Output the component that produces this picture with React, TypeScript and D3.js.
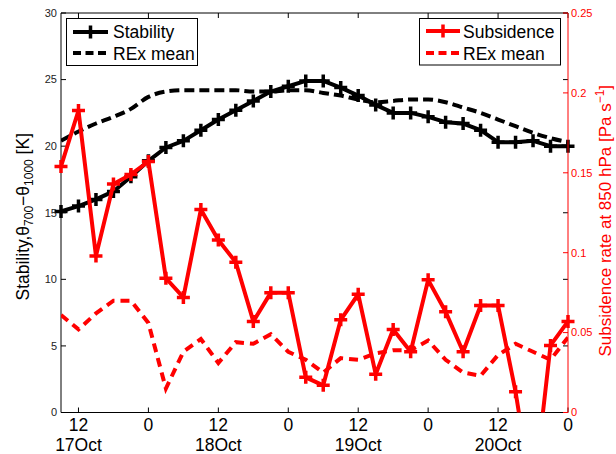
import React from 'react';
import * as d3 from 'd3';

// hours since 17 Oct 00 UTC, one value every 3 h
const hours = [9, 12, 15, 18, 21, 24, 27, 30, 33, 36, 39, 42, 45, 48, 51, 54, 57, 60, 63, 66, 69, 72, 75, 78, 81, 84, 87, 90, 93, 96];
const stability = [15.1, 15.5, 16.0, 16.6, 17.7, 18.9, 19.9, 20.4, 21.2, 22.0, 22.7, 23.4, 24.1, 24.5, 24.9, 24.9, 24.4, 23.8, 23.1, 22.5, 22.5, 22.2, 21.8, 21.7, 21.2, 20.3, 20.3, 20.4, 20.0, 20.0];
const stabilityRex = [20.4, 21.1, 21.7, 22.2, 22.8, 23.7, 24.1, 24.2, 24.2, 24.2, 24.2, 24.1, 24.1, 24.2, 24.2, 24.0, 23.8, 23.5, 23.3, 23.4, 23.5, 23.5, 23.3, 22.9, 22.5, 22.0, 21.5, 21.0, 20.6, 20.3];
const subsidence = [0.154, 0.189, 0.098, 0.143, 0.149, 0.157, 0.084, 0.072, 0.127, 0.108, 0.094, 0.057, 0.075, 0.075, 0.022, 0.017, 0.058, 0.074, 0.024, 0.052, 0.038, 0.083, 0.063, 0.038, 0.067, 0.067, 0.013, -0.055, 0.042, 0.057];
const subsidenceRex = [0.061, 0.052, 0.062, 0.070, 0.070, 0.056, 0.015, 0.038, 0.046, 0.031, 0.044, 0.043, 0.049, 0.038, 0.033, 0.025, 0.034, 0.033, 0.037, 0.039, 0.039, 0.045, 0.033, 0.025, 0.023, 0.036, 0.043, 0.038, 0.033, 0.047];

const xTicks = [12, 24, 36, 48, 60, 72, 84, 96];
const xTickLabels = ['12', '0', '12', '0', '12', '0', '12', '0'];
const dayTicks = [12, 36, 60, 84];
const dayLabels = ['17Oct', '18Oct', '19Oct', '20Oct'];
const leftTicks = [0, 5, 10, 15, 20, 25, 30];
const rightTicks = [0, 0.05, 0.1, 0.15, 0.2, 0.25];
const rightTickLabels = ['0', '0.05', '0.1', '0.15', '0.2', '0.25'];

const W = 616, H = 454;
const m = { left: 61, right: 568, top: 13, bottom: 412.5 };
const RED = '#ff0000';
const FONT = '"Liberation Sans", Arial, sans-serif';

const plus = 'M-6.5,0H6.5M0,-6.5V6.5';

export default function App() {
  const x = d3.scaleLinear().domain([9, 96]).range([m.left, m.right]);
  const yL = d3.scaleLinear().domain([0, 30]).range([m.bottom, m.top]);
  const yR = d3.scaleLinear().domain([0, 0.25]).range([m.bottom, m.top]);

  const lineL = d3.line<number>().x((_, i) => x(hours[i])).y(d => yL(d));
  const smoothL = d3.line<number>().x((_, i) => x(hours[i])).y(d => yL(d)).curve(d3.curveMonotoneX);
  const lineR = d3.line<number>().x((_, i) => x(hours[i])).y(d => yR(d));

  return (
    <svg width={W} height={H} style={{ position: 'absolute', left: 0, top: 0, background: '#fff' }} fontFamily={FONT}>
      <defs>
        <clipPath id="plot">
          <rect x={m.left} y={m.top} width={m.right - m.left} height={m.bottom - m.top} />
        </clipPath>
      </defs>
      <rect x={0} y={0} width={W} height={H} fill="#fff" />

      {/* left axis data */}
      <g clipPath="url(#plot)">
        <path d={smoothL(stabilityRex) || ''} fill="none" stroke="#000" strokeWidth={4} strokeDasharray="10,5" />
        <path d={lineL(stability) || ''} fill="none" stroke="#000" strokeWidth={4} strokeLinejoin="round" />
      </g>
      {stability.map((d, i) => (
        <path key={i} d={plus} transform={`translate(${x(hours[i])},${yL(d)})`} stroke="#000" strokeWidth={3.5} />
      ))}

      {/* frame + ticks for left axis */}
      <g stroke="#000" strokeWidth={1} fill="none">
        <line x1={m.left} y1={m.top} x2={m.right} y2={m.top} />
        <line x1={m.left} y1={m.bottom} x2={m.right} y2={m.bottom} />
        <line x1={m.left} y1={m.top} x2={m.left} y2={m.bottom} />
        {xTicks.map(t => (
          <g key={t}>
            <line x1={x(t)} x2={x(t)} y1={m.bottom} y2={m.bottom - 5} />
            <line x1={x(t)} x2={x(t)} y1={m.top} y2={m.top + 5} />
          </g>
        ))}
        {leftTicks.map(t => (
          <g key={t}>
            <line x1={m.left} x2={m.left + 5} y1={yL(t)} y2={yL(t)} />
            <line x1={m.right} x2={m.right - 5} y1={yL(t)} y2={yL(t)} />
          </g>
        ))}
      </g>
      {leftTicks.map(t => (
        <text key={t} x={m.left - 4} y={yL(t)} dy="0.35em" textAnchor="end" fontSize={11} fill="#222">{t}</text>
      ))}
      {xTicks.map((t, i) => (
        <text key={t} x={x(t)} y={431} textAnchor="middle" fontSize={17.5} fill="#000">{xTickLabels[i]}</text>
      ))}
      {dayTicks.map((t, i) => (
        <text key={t} x={x(t)} y={451} textAnchor="middle" fontSize={17.5} fill="#000">{dayLabels[i]}</text>
      ))}

      {/* legend for left axis */}
      <g>
        <rect x={66.5} y={18.5} width={131} height={47} fill="#fff" stroke="#000" strokeWidth={1} />
        <line x1={73} x2={108} y1={32} y2={32} stroke="#000" strokeWidth={4} />
        <path d={plus} transform="translate(90.5,32)" stroke="#000" strokeWidth={3.5} />
        <text x={113} y={38} fontSize={17.5}>Stability</text>
        <line x1={73} x2={108} y1={53} y2={53} stroke="#000" strokeWidth={4} strokeDasharray="8,4.5" />
        <text x={113} y={59.5} fontSize={17.5}>REx mean</text>
      </g>

      {/* right axis data */}
      <g clipPath="url(#plot)">
        <path d={lineR(subsidenceRex) || ''} fill="none" stroke={RED} strokeWidth={4} strokeDasharray="9,6" />
        <path d={lineR(subsidence) || ''} fill="none" stroke={RED} strokeWidth={4} strokeLinejoin="round" />
      </g>
      {subsidence.filter(d => d >= 0).length > 0 && subsidence.map((d, i) => d >= 0 ? (
        <path key={i} d={plus} transform={`translate(${x(hours[i])},${yR(d)})`} stroke={RED} strokeWidth={3.5} />
      ) : null)}

      {/* right axis */}
      <g stroke={RED} strokeWidth={1}>
        <line x1={m.right} x2={m.right} y1={m.top} y2={m.bottom} />
        {rightTicks.map(t => (
          <line key={t} x1={m.right} x2={m.right - 5} y1={yR(t)} y2={yR(t)} />
        ))}
      </g>
      {rightTicks.map((t, i) => (
        <text key={t} x={m.right + 3} y={yR(t)} dy="0.35em" fontSize={11} fill={RED}>{rightTickLabels[i]}</text>
      ))}

      {/* legend for right axis */}
      <g>
        <rect x={419.5} y={18.5} width={141} height={46.5} fill="#fff" stroke="#000" strokeWidth={1} />
        <line x1={426} x2={460} y1={31} y2={31} stroke={RED} strokeWidth={4} />
        <path d={plus} transform="translate(443,31)" stroke={RED} strokeWidth={3.5} />
        <text x={463} y={38} fontSize={17.5}>Subsidence</text>
        <line x1={426} x2={460} y1={53} y2={53} stroke={RED} strokeWidth={4} strokeDasharray="8,4.5" />
        <text x={463} y={59.5} fontSize={17.5}>REx mean</text>
      </g>

      {/* axis labels */}
      <text transform={`translate(29,${(m.top + m.bottom) / 2 + 4}) rotate(-90)`} textAnchor="middle" fontSize={17.5} fill="#000">
        Stability,θ<tspan fontSize={12} dy={4}>700</tspan><tspan dy={-4}>−θ</tspan><tspan fontSize={12} dy={4}>1000</tspan><tspan dy={-4}> [K]</tspan>
      </text>
      <text transform={`translate(611,${(m.top + m.bottom) / 2 + 8}) rotate(-90)`} textAnchor="middle" fontSize={17} fill={RED}>
        Subsidence rate at 850 hPa [Pa s<tspan fontSize={12} dy={-7}>−1</tspan><tspan dy={7}>]</tspan>
      </text>
    </svg>
  );
}
